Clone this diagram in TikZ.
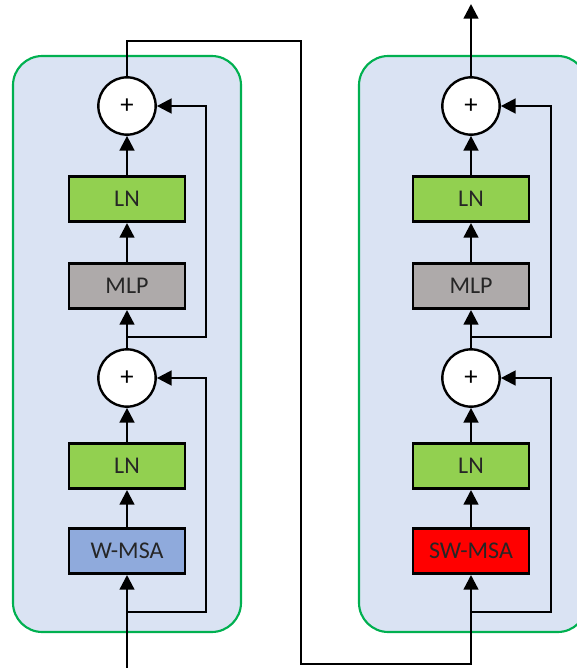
\documentclass[tikz,border=0pt]{standalone}
\usepackage{fontspec}
\setmainfont{Carlito}
\usetikzlibrary{arrows.meta}
\definecolor{panelfill}{HTML}{DAE3F3}
\definecolor{panelline}{HTML}{00B050}
\definecolor{lngreen}{HTML}{92D050}
\definecolor{mlpgray}{HTML}{AEAAAA}
\definecolor{wmsablue}{HTML}{8FAADC}
\definecolor{swmsared}{HTML}{FF0000}
\definecolor{txt}{HTML}{262626}
\tikzset{
  panel/.style={draw=panelline, fill=panelfill, line width=1.6pt, rounded corners=22pt},
  block/.style={draw=black, line width=2pt, minimum width=87pt, minimum height=34pt,
    inner sep=0pt, text=txt, font=\fontsize{18}{21}\selectfont},
  addnode/.style={circle, draw=black, fill=white, line width=1.8pt, minimum size=43pt,
    inner sep=0pt, font=\fontsize{20}{22}\selectfont},
  conn/.style={line width=1.8pt, line cap=rect},
  arr/.style={conn, -{Triangle[length=11pt, width=11pt]}},
}
\begin{document}
\begin{tikzpicture}[x=0.75pt, y=-0.75pt]
  \useasboundingbox (0,0) rectangle (577,668);
  \clip (0,0) rectangle (577,668);

  % the two transformer blocks
  \path[panel] (13,56) rectangle (241,632);
  \path[panel] (359,56) rectangle (587,632);

  % first block: W-MSA
  \node[addnode] (a2) at (127,106) {+};
  \node[block, fill=lngreen] (ln2) at (127,199) {LN};
  \node[block, fill=mlpgray] (mlp1) at (127,286) {MLP};
  \node[addnode] (a1) at (127,378) {+};
  \node[block, fill=lngreen] (ln1) at (127,466) {LN};
  \node[block, fill=wmsablue] (wmsa) at (127,551) {W-MSA};

  % second block: SW-MSA
  \node[addnode] (b2) at (471,106) {+};
  \node[block, fill=lngreen] (ln4) at (471,199) {LN};
  \node[block, fill=mlpgray] (mlp2) at (471,286) {MLP};
  \node[addnode] (b1) at (471,378) {+};
  \node[block, fill=lngreen] (ln3) at (471,466) {LN};
  \node[block, fill=swmsared] (swmsa) at (471,551) {SW-MSA};

  % input, output and link between the blocks
  \coordinate (in) at (127,672);
  \coordinate (out) at (471,4);
  \coordinate (l1) at (127,41);
  \coordinate (l2) at (301,41);
  \coordinate (l3) at (301,664);
  \coordinate (l4) at (471,664);

  % branch points of the residual paths
  \coordinate (s1) at (127,612);
  \coordinate (s1r) at (206,612);
  \coordinate (s2) at (127,337);
  \coordinate (s2r) at (206,337);
  \coordinate (t1) at (471,612);
  \coordinate (t1r) at (551,612);
  \coordinate (t2) at (471,337);
  \coordinate (t2r) at (551,337);

  % main path of the first block
  \draw[arr] (in) -- (wmsa.south);
  \draw[arr] (wmsa) -- (ln1);
  \draw[arr] (ln1) -- (a1);
  \draw[arr] (a1) -- (mlp1);
  \draw[arr] (mlp1) -- (ln2);
  \draw[arr] (ln2) -- (a2);
  \draw[arr] (s1) -- (s1r) |- (a1.east);
  \draw[arr] (s2) -- (s2r) |- (a2.east);

  % link to the second block
  \draw[arr] (a2.north) -- (l1) -- (l2) -- (l3) -- (l4) -- (swmsa.south);

  % main path of the second block
  \draw[arr] (swmsa) -- (ln3);
  \draw[arr] (ln3) -- (b1);
  \draw[arr] (b1) -- (mlp2);
  \draw[arr] (mlp2) -- (ln4);
  \draw[arr] (ln4) -- (b2);
  \draw[arr] (t1) -- (t1r) |- (b1.east);
  \draw[arr] (t2) -- (t2r) |- (b2.east);
  \draw[arr] (b2) -- (out);
\end{tikzpicture}
\end{document}
